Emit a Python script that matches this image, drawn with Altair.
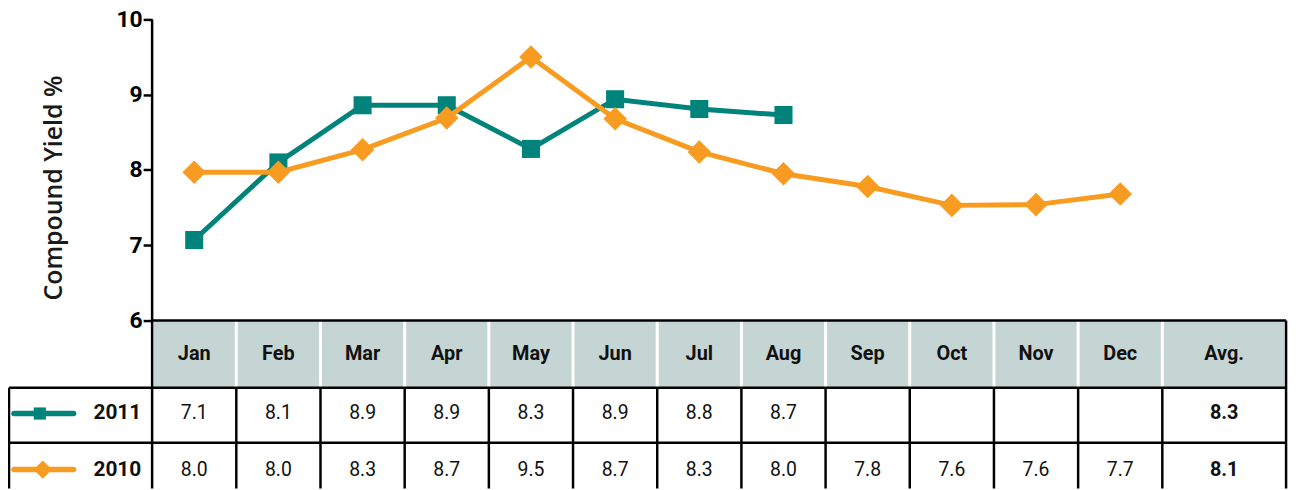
import altair as alt
import pandas as pd

# ---- data ----
months = ["Jan", "Feb", "Mar", "Apr", "May", "Jun", "Jul", "Aug", "Sep", "Oct", "Nov", "Dec"]
series_names = ["2011", "2010"]
yield_2011 = [7.07, 8.10, 8.86, 8.86, 8.28, 8.94, 8.81, 8.73]
yield_2010 = [7.97, 7.97, 8.27, 8.69, 9.50, 8.68, 8.24, 7.95, 7.78, 7.53, 7.54, 7.68]
table_2011 = ["7.1", "8.1", "8.9", "8.9", "8.3", "8.9", "8.8", "8.7", "", "", "", ""]
table_2010 = ["8.0", "8.0", "8.3", "8.7", "9.5", "8.7", "8.3", "8.0", "7.8", "7.6", "7.6", "7.7"]
avg_label = "Avg."
avg_2011 = "8.3"
avg_2010 = "8.1"
y_ticks = [6, 7, 8, 9, 10]
y_title = "Compound Yield %"

# ---- layout (in scale units) ----
X_MIN, X_MAX = -2.212, 12.993
Y_MIN, Y_MAX = 3.769, 10.132
HEAD_TOP, HEAD_BOT, ROW1_BOT = 6.0, 5.108, 4.376
LEFT_EDGE, AXIS_X, AVG_LEFT, AVG_RIGHT = -2.20, -0.5, 11.5, 12.97
AVG_X = (AVG_LEFT + AVG_RIGHT) / 2
HEAD_Y = (HEAD_TOP + HEAD_BOT) / 2
ROW_Y = [4.765, 4.02]

TEAL = "#00837b"
ORANGE = "#f89b21"
HEAD_FILL = "#c5d5d3"
COND = "Roboto"

xs = alt.Scale(domain=[X_MIN, X_MAX], nice=False, zero=False)
ys = alt.Scale(domain=[Y_MIN, Y_MAX], nice=False, zero=False)
yaxis = alt.Axis(values=y_ticks, offset=-145, domain=False, grid=False, ticks=True,
                 tickSize=9, tickWidth=2.5, tickColor="black", labelFont=COND,
                 labelFontSize=23, labelFontWeight="bold", labelColor="black",
                 labelPadding=1, title=None)


def X(f):
    return alt.X(f, type="quantitative", scale=xs, axis=None)


def Y(f):
    return alt.Y(f, type="quantitative", scale=ys, axis=yaxis)


# header cells
hdr = pd.DataFrame({
    "label": months + [avg_label],
    "x": [i - 0.5 for i in range(len(months))] + [AVG_LEFT],
    "x2": [i + 0.5 for i in range(len(months))] + [AVG_RIGHT],
    "xc": list(range(len(months))) + [AVG_X],
    "y": HEAD_TOP, "y2": HEAD_BOT, "yc": HEAD_Y,
})
head_rect = alt.Chart(hdr).mark_rect(color=HEAD_FILL, xOffset=1.5, x2Offset=-1.5).encode(
    x=X("x"), x2="x2", y=Y("y"), y2="y2")
head_text = alt.Chart(hdr).mark_text(font=COND, fontSize=20, fontWeight="bold", color="#111").encode(
    x=X("xc"), y=Y("yc"), text="label:N")

# grid lines
lines = [
    (AXIS_X, HEAD_TOP, AVG_RIGHT, HEAD_TOP),
    (LEFT_EDGE, HEAD_BOT, AVG_RIGHT, HEAD_BOT),
    (LEFT_EDGE, ROW1_BOT, AVG_RIGHT, ROW1_BOT),
    (AXIS_X, y_ticks[-1], AXIS_X, Y_MIN),
    (LEFT_EDGE, HEAD_BOT, LEFT_EDGE, Y_MIN),
    (AVG_RIGHT, HEAD_TOP, AVG_RIGHT, Y_MIN),
] + [(i + 0.5, HEAD_BOT, i + 0.5, Y_MIN) for i in range(len(months))]
grid = pd.DataFrame(lines, columns=["x", "y", "x2", "y2"])
grid_rules = alt.Chart(grid).mark_rule(color="black", strokeWidth=2.5).encode(
    x=X("x"), x2="x2", y=Y("y"), y2="y2")

# table values
cells = []
for r, (vals, avg) in enumerate([(table_2011, avg_2011), (table_2010, avg_2010)]):
    for i, v in enumerate(vals):
        cells.append({"x": i, "y": ROW_Y[r], "t": v, "b": "normal"})
    cells.append({"x": AVG_X, "y": ROW_Y[r], "t": avg, "b": "bold"})
cells = pd.DataFrame(cells)
cell_text = alt.Chart(cells[cells.b == "normal"]).mark_text(font=COND, fontSize=19.5, color="#111").encode(
    x=X("x"), y=Y("y"), text="t:N")
cell_bold = alt.Chart(cells[cells.b == "bold"]).mark_text(font=COND, fontSize=20, fontWeight="bold", color="#111").encode(
    x=X("x"), y=Y("y"), text="t:N")

# row legends
leg = pd.DataFrame({"s": series_names, "x": [-2.141, -2.141], "x2": [-1.433, -1.433],
                    "m": [-1.834, -1.799], "lx": [-0.913, -0.913], "y": ROW_Y})
cs = alt.Scale(domain=series_names, range=[TEAL, ORANGE])
leg_line = alt.Chart(leg).mark_rule(strokeWidth=5.5, strokeCap="round").encode(
    x=X("x"), x2="x2", y=Y("y"), color=alt.Color("s:N", scale=cs, legend=None))
leg_sq = alt.Chart(leg[leg.s == "2011"]).mark_point(shape="square", filled=True, size=150, opacity=1, color=TEAL).encode(
    x=X("m"), y=Y("y"))
leg_dm = alt.Chart(leg[leg.s == "2010"]).mark_point(shape="diamond", filled=True, size=340, opacity=1, color=ORANGE).encode(
    x=X("m"), y=Y("y"))
leg_txt = alt.Chart(leg).mark_text(font=COND, fontSize=21, fontWeight="bold", color="#111").encode(
    x=X("lx"), y=Y("y"), text="s:N")

# series
d11 = pd.DataFrame({"i": range(len(yield_2011)), "v": yield_2011})
d10 = pd.DataFrame({"i": range(len(yield_2010)), "v": yield_2010})
l11 = alt.Chart(d11).mark_line(color=TEAL, strokeWidth=5).encode(x=X("i"), y=Y("v"))
p11 = alt.Chart(d11).mark_point(shape="square", filled=True, size=330, opacity=1, color=TEAL).encode(x=X("i"), y=Y("v"))
l10 = alt.Chart(d10).mark_line(color=ORANGE, strokeWidth=5).encode(x=X("i"), y=Y("v"))
p10 = alt.Chart(d10).mark_point(shape="diamond", filled=True, size=560, opacity=1, color=ORANGE).encode(x=X("i"), y=Y("v"))

# y title
tdf = pd.DataFrame({"x": [-1.66], "y": [7.76], "t": [y_title]})
title = alt.Chart(tdf).mark_text(font="Open Sans", fontSize=25, fontWeight=600, angle=270, color="#1a1a1a").encode(
    x=X("x"), y=Y("y"), text="t:N")

chart = alt.layer(head_rect, grid_rules, head_text, cell_text, cell_bold, leg_line, leg_sq, leg_dm,
                  leg_txt, l11, p11, l10, p10, title).properties(
    width=1288, height=482, autosize="none", padding=0, background="white"
).configure_view(stroke=None)

chart.save("out.html", embed_options={"renderer": "svg", "actions": False})
